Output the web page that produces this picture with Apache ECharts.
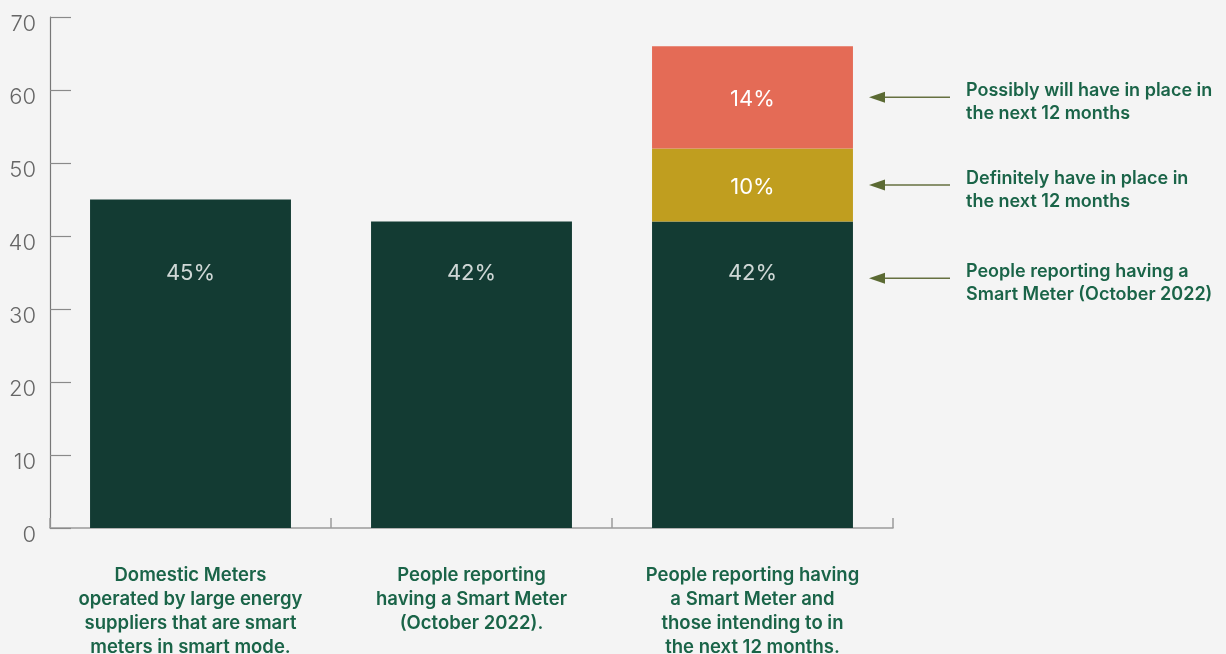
<!DOCTYPE html>
<html>
<head>
<meta charset="utf-8">
<script src="https://cdn.jsdelivr.net/npm/echarts@6/dist/echarts.min.js"></script>
<style>
html,body{margin:0;padding:0;background:#f4f4f4;}
#chart{width:1226px;height:654px;}
</style>
</head>
<body>
<div id="chart"></div>
<script>
const categories = [
  "Domestic Meters\noperated by large energy\nsuppliers that are smart\nmeters in smart mode.",
  "People reporting\nhaving a Smart Meter\n(October 2022).",
  "People reporting having\na Smart Meter and\nthose intending to in\nthe next 12 months."
];
const haveValues = [45, 42, 42];
const definitelyValues = ['-', '-', 10];
const possiblyValues = ['-', '-', 14];
const yTicks = [0, 10, 20, 30, 40, 50, 60, 70];
const annotationTexts = [
  "Possibly will have in place in\nthe next 12 months",
  "Definitely have in place in\nthe next 12 months",
  "People reporting having a\nSmart Meter (October 2022)"
];
const annotationLevels = [59, 47, 34.2];
const darkLabelLevel = 35;

const COL_DARK = '#133b33', COL_GOLD = '#c09e1f', COL_CORAL = '#e46b56';
const TXT_GREEN = '#1a6448';
const FONT = 'Inter';

const chart = echarts.init(document.getElementById('chart'), null, {renderer: 'canvas'});

const valLabel = {
  show: true, position: 'inside', color: '#ffffff', fontFamily: FONT,
  fontWeight: 400, fontSize: 22, offset: [0, 2], formatter: p => p.value + '%'
};

chart.setOption({
  backgroundColor: '#f4f4f4',
  animation: false,
  grid: {left: 50, right: 333, top: 17, bottom: 126, containLabel: false, outerBoundsMode: 'none'},
  xAxis: {
    type: 'category',
    data: categories,
    axisLine: {lineStyle: {color: '#9a9a9a', width: 1.5}},
    axisTick: {show: true, inside: true, length: 10, lineStyle: {color: '#9a9a9a', width: 1.5}},
    axisLabel: {
      margin: 35, color: TXT_GREEN, fontFamily: FONT, fontWeight: 600,
      fontSize: 18.5, lineHeight: 24, align: 'center', interval: 0
    }
  },
  yAxis: {
    type: 'value', min: yTicks[0], max: yTicks[yTicks.length - 1], interval: 10,
    splitLine: {show: false},
    axisLine: {show: true, lineStyle: {color: '#777777', width: 1.2}},
    axisTick: {show: true, inside: true, length: 21, lineStyle: {color: '#8a8a8a', width: 1.2}},
    axisLabel: {
      margin: 14, color: '#666666', fontFamily: FONT, fontWeight: 300, fontSize: 22,
      verticalAlign: 'top', lineHeight: 15
    }
  },
  series: [
    {
      type: 'bar', stack: 's', data: haveValues, barWidth: '71.5%',
      itemStyle: {color: COL_DARK}, label: {show: false}
    },
    {
      type: 'bar', stack: 's', data: definitelyValues, barWidth: '71.5%',
      itemStyle: {color: COL_GOLD}, label: valLabel
    },
    {
      type: 'bar', stack: 's', data: possiblyValues, barWidth: '71.5%',
      itemStyle: {color: COL_CORAL}, label: valLabel
    },
    {
      type: 'scatter', symbolSize: 0, silent: true, z: 5,
      data: haveValues.map((v, i) => ({value: [i, darkLabelLevel], name: v + '%'})),
      label: {
        show: true, position: 'inside', color: '#ffffff', fontFamily: FONT,
        fontWeight: 400, fontSize: 22, offset: [0, 1], formatter: p => p.name
      }
    }
  ]
});

const graphics = [];
annotationLevels.forEach((lvl, i) => {
  const y = chart.convertToPixel({yAxisIndex: 0}, lvl);
  graphics.push({
    type: 'line', shape: {x1: 880, y1: y, x2: 950, y2: y},
    style: {stroke: '#667040', lineWidth: 1.5}
  });
  graphics.push({
    type: 'polygon', shape: {points: [[869, y], [885, y - 5.5], [885, y + 5.5]]},
    style: {fill: '#5b6a33'}
  });
  graphics.push({
    type: 'text', x: 966, y: y + 5,
    style: {
      text: annotationTexts[i], fill: TXT_GREEN, fontFamily: FONT, fontWeight: 600,
      fontSize: 18, lineHeight: 23, verticalAlign: 'middle', align: 'left'
    }
  });
});
chart.setOption({graphic: graphics});
</script>
</body>
</html>
